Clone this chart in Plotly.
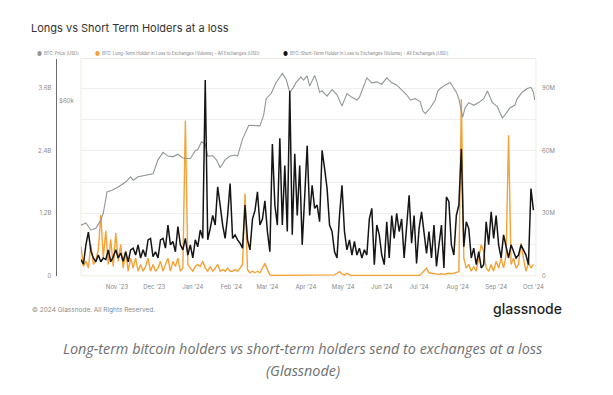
import plotly.graph_objects as go
import pandas as pd
import numpy as np

# ---------------- data ----------------
grid_start = "2023-10-03"
grid_step_days = 2

sth_volume_m = [
    7.8, 5.6, 14.9, 21, 12, 8.6, 6.8, 10, 6.8, 8.6,
    7.8, 12.5, 6.8, 9.2, 12.5, 8.6, 11, 7, 11.6, 6.8,
    12.5, 13.3, 10, 14.9, 8.6, 12.5, 9.2, 17.3, 18, 9.2,
    11.6, 8.6, 17.3, 18, 13.3, 24.4, 14.9, 16.5, 11.6, 23.7,
    14.9, 12.5, 18, 10, 14.9, 8.6, 17.3, 14, 22, 18,
    94, 17.3, 22.7, 29, 24.4, 42.7, 34, 24.4, 18, 29,
    44.3, 18, 19.7, 17.3, 15.7, 13.3, 34, 17.3, 12.5, 27.3,
    31.3, 40.3, 24.4, 27.3, 36, 21.3, 11.6, 63.3, 34, 24.4,
    66, 24.4, 53, 21.3, 88.7, 19.7, 58.6, 29, 53, 14.9,
    38, 62.5, 29, 43.5, 32.4, 34, 26, 60.3, 51.6, 42,
    24.4, 21.3, 11.6, 8.6, 29, 43.5, 21.3, 12.5, 17.3, 10,
    16.5, 10, 13.3, 8.6, 12.5, 10, 27.3, 32.4, 5.4, 24.4,
    19.7, 10, 5.4, 26, 8.6, 29, 18, 30, 21.3, 27.3,
    8.6, 26, 38.7, 15.7, 29, 6, 22.7, 30.7, 21.3, 10.8,
    21.3, 8.6, 24.4, 4.6, 14.9, 24.4, 3.8, 37.9, 35.6, 14.9,
    10, 29, 34, 61, 14, 26, 22.7, 8.6, 13.3, 5.4,
    11.6, 3.8, 5.4, 26, 15, 30.7, 18, 29, 14.9, 8.6,
    19.7, 13.3, 8.6, 14.9, 11.6, 8.6, 10, 14.9, 12.5, 10,
    5.4, 41.9, 31.6,
]

lth_volume_b = [
    0.57, 0.18, 0.28, 0.15, 0.60, 0.22, 0.30, 0.50, 1.17, 0.35,
    0.86, 0.22, 0.70, 0.18, 0.82, 0.28, 0.60, 0.15, 0.47, 0.09,
    0.34, 0.15, 0.34, 0.09, 0.22, 0.09, 0.18, 0.34, 0.09, 0.22,
    0.09, 0.15, 0.28, 0.09, 0.22, 0.34, 0.09, 0.28, 0.18, 0.34,
    0.09, 0.15, 2.98, 0.22, 0.15, 0.09, 0.18, 0.22, 0.18, 0.28,
    0.15, 0.09, 0.18, 0.09, 0.15, 0.22, 0.09, 0.12, 0.09, 0.15,
    0.09, 0.09, 0.12, 0.09, 0.15, 0.22, 1.58, 0.12, 0.06, 0.09,
    0.06, 0.09, 0.06, 0.15, 0.24, 0.12, 0.02, 0.01, 0.01, 0.01,
    0.01, 0.01, 0.01, 0.01, 0.01, 0.01, 0.01, 0.01, 0.01, 0.01,
    0.01, 0.01, 0.01, 0.01, 0.01, 0.01, 0.01, 0.01, 0.01, 0.01,
    0.01, 0.01, 0.02, 0.05, 0.08, 0.04, 0.02, 0.05, 0.02, 0.01,
    0.01, 0.01, 0.01, 0.01, 0.01, 0.01, 0.01, 0.01, 0.01, 0.01,
    0.01, 0.01, 0.01, 0.01, 0.01, 0.01, 0.01, 0.01, 0.01, 0.01,
    0.01, 0.01, 0.01, 0.01, 0.01, 0.01, 0.01, 0.04, 0.10, 0.15,
    0.06, 0.05, 0.04, 0.03, 0.03, 0.04, 0.03, 0.04, 0.05, 0.04,
    0.05, 0.06, 0.08, 3.39, 0.34, 0.15, 0.22, 0.09, 0.18, 0.09,
    0.34, 0.60, 0.47, 0.15, 0.09, 0.22, 0.09, 0.28, 0.15, 0.34,
    0.15, 0.40, 2.70, 0.22, 0.34, 0.15, 0.22, 0.63, 0.34, 0.09,
    0.25, 0.15, 0.22,
]

price_dates = [
    "2023-10-03", "2023-10-07", "2023-10-11", "2023-10-15", "2023-10-19", "2023-10-21",
    "2023-10-24", "2023-10-28", "2023-11-02", "2023-11-08", "2023-11-12", "2023-11-14",
    "2023-11-18", "2023-11-24", "2023-11-30", "2023-12-04", "2023-12-08", "2023-12-12",
    "2023-12-16", "2023-12-20", "2023-12-24", "2023-12-30", "2024-01-03", "2024-01-05",
    "2024-01-08", "2024-01-11", "2024-01-13", "2024-01-17", "2024-01-20", "2024-01-23",
    "2024-01-27", "2024-01-31", "2024-02-04", "2024-02-06", "2024-02-10", "2024-02-15",
    "2024-02-20", "2024-02-24", "2024-02-27", "2024-02-29", "2024-03-04", "2024-03-08",
    "2024-03-13", "2024-03-16", "2024-03-19", "2024-03-22", "2024-03-24", "2024-03-28",
    "2024-03-30", "2024-04-02", "2024-04-04", "2024-04-08", "2024-04-10", "2024-04-12",
    "2024-04-14", "2024-04-18", "2024-04-22", "2024-04-26", "2024-04-30", "2024-05-04",
    "2024-05-08", "2024-05-12", "2024-05-14", "2024-05-17", "2024-05-20", "2024-05-24",
    "2024-05-28", "2024-06-01", "2024-06-05", "2024-06-09", "2024-06-13", "2024-06-17",
    "2024-06-21", "2024-06-24", "2024-06-28", "2024-07-02", "2024-07-04", "2024-07-06",
    "2024-07-10", "2024-07-14", "2024-07-16", "2024-07-18", "2024-07-22", "2024-07-26",
    "2024-07-29", "2024-07-31", "2024-08-02", "2024-08-05", "2024-08-07", "2024-08-10",
    "2024-08-14", "2024-08-18", "2024-08-22", "2024-08-25", "2024-08-29", "2024-09-02",
    "2024-09-06", "2024-09-08", "2024-09-12", "2024-09-16", "2024-09-18", "2024-09-22",
    "2024-09-26", "2024-09-29", "2024-10-01", "2024-10-02",
]
price_k = [
    27.5, 27.9, 26.7, 27.0, 28.4, 29.7,
    33.9, 34.3, 35.0, 36.1, 37.3, 36.5,
    37.3, 37.6, 38.0, 41.5, 43.5, 42.5,
    42.3, 43.0, 42.0, 41.8, 44.0, 44.2,
    46.5, 45.8, 42.5, 42.6, 41.5, 39.5,
    41.5, 42.5, 42.8, 42.5, 47.3, 51.6,
    51.5, 51.4, 55.0, 61.0, 63.0, 67.5,
    71.5, 69.0, 63.5, 65.5, 67.5, 70.0,
    68.5, 70.4, 66.0, 70.6, 67.5, 63.5,
    64.0, 62.0, 64.6, 62.5, 58.2, 63.0,
    61.5, 60.5, 61.5, 65.5, 69.5, 67.4,
    67.8, 66.8, 69.5, 67.4, 66.5, 64.5,
    62.5, 60.5, 61.0, 59.8, 56.5, 55.5,
    57.5, 60.5, 64.0, 65.0, 66.5, 67.5,
    65.0, 63.5, 61.0, 54.2, 57.5, 59.5,
    58.5, 59.5, 61.0, 64.0, 59.5, 58.0,
    54.0, 55.0, 57.5, 58.5, 61.0, 63.5,
    65.0, 65.5, 63.5, 60.5,
]

month_ticks = ["2023-11-01", "2023-12-01", "2024-01-01", "2024-02-01", "2024-03-01",
               "2024-04-01", "2024-05-01", "2024-06-01", "2024-07-01", "2024-08-01",
               "2024-09-01", "2024-10-01"]
month_labels = ["Nov '23", "Dec '23", "Jan '24", "Feb '24", "Mar '24", "Apr '24",
                "May '24", "Jun '24", "Jul '24", "Aug '24", "Sep '24", "Oct '24"]

lth_tickvals = [0, 1.2e9, 2.4e9, 3.6e9]
lth_ticktext = ["0", "1.2B", "2.4B", "3.6B"]
sth_tickvals = [0, 30e6, 60e6, 90e6]
sth_ticktext = ["0", "30M", "60M", "90M"]
price_tickvals = [20000, 60000]
price_ticktext = ["$20k", "$60k"]

legend_labels = [
    "BTC: Price [USD]",
    "BTC: Long-Term Holder in Loss to Exchanges (Volume) - All Exchanges [USD]",
    "BTC: Short-Term Holder in Loss to Exchanges (Volume) - All Exchanges [USD]",
]

# ---------------- figure ----------------
W, H = 613, 395
grid_dates = pd.date_range(grid_start, periods=len(sth_volume_m), freq=f"{grid_step_days}D")

PRICE_C = "#8e9794"
LTH_C = "#f4a236"
STH_C = "#151515"
LABEL_C = "#8a8a8a"
FONT = "Inter"

fig = go.Figure()
fig.add_trace(go.Scatter(x=price_dates, y=[p * 1000 for p in price_k], yaxis="y2",
                         mode="lines", line=dict(color=PRICE_C, width=1.1),
                         name=legend_labels[0]))
fig.add_trace(go.Scatter(x=grid_dates, y=[v * 1e9 for v in lth_volume_b], yaxis="y",
                         mode="lines", line=dict(color=LTH_C, width=1.4),
                         name=legend_labels[1]))
fig.add_trace(go.Scatter(x=grid_dates, y=[v * 1e6 for v in sth_volume_m], yaxis="y3",
                         mode="lines", line=dict(color=STH_C, width=1.5),
                         name=legend_labels[2]))

x0, x1 = 82 / W, 543 / W
y_top, y_bot = 1 - 59 / H, 1 - 278 / H

tickfont = dict(family=FONT, size=6, color=LABEL_C)

fig.update_layout(
    width=W, height=H,
    margin=dict(l=0, r=0, t=0, b=0),
    paper_bgcolor="white", plot_bgcolor="white",
    showlegend=False,
    xaxis=dict(domain=[x0, x1], type="date",
               range=["2023-10-03", "2024-10-03"],
               tickvals=month_ticks, ticktext=month_labels,
               tickfont=tickfont, showgrid=False, zeroline=False,
               showline=False, ticks="", ticklabelstandoff=6),
    yaxis=dict(domain=[y_bot, y_top], range=[0, 4.171e9],
               tickvals=lth_tickvals, ticktext=lth_ticktext,
               tickfont=tickfont, showgrid=True, gridcolor="#efefef", gridwidth=1,
               minor=dict(dtick=0.6e9, showgrid=True, gridcolor="#efefef", gridwidth=1),
               zeroline=False, showline=False, ticks="",
               anchor="free", position=52 / W, side="left"),
    yaxis2=dict(overlaying="y", type="log",
                range=[np.log10(20000), np.log10(78500)],
                tickvals=price_tickvals, ticktext=price_ticktext,
                tickfont=tickfont, showgrid=False, zeroline=False,
                showline=True, linecolor="#6b6b6b", linewidth=1,
                ticks="", ticklabelposition="inside",
                anchor="free", position=57 / W, side="left"),
    yaxis3=dict(overlaying="y", range=[0, 104.3e6],
                tickvals=sth_tickvals, ticktext=sth_ticktext,
                tickfont=tickfont, showgrid=False, zeroline=False,
                showline=False, ticks="", side="right", anchor="x",
                ticklabelstandoff=5),
)

# plot area frame
fig.add_shape(type="rect", xref="paper", yref="paper", x0=x0, x1=x1, y0=y_bot, y1=y_top,
              line=dict(color="#f1ece2", width=1), layer="below")

# title
fig.add_annotation(x=29 / W, y=1 - 28 / H, xref="paper", yref="paper",
                   xanchor="left", yanchor="middle", showarrow=False,
                   text="Longs vs Short Term Holders at a loss",
                   font=dict(family=FONT, size=11, color="#333333"))

# legend (manual)
legend_x = [40, 99, 289]
legend_colors = [PRICE_C, LTH_C, STH_C]
for lx, col, txt in zip(legend_x, legend_colors, legend_labels):
    fig.add_annotation(x=lx / W, y=1 - 54 / H, xref="paper", yref="paper",
                       xanchor="center", yanchor="middle", showarrow=False,
                       text="●", font=dict(family=FONT, size=5.5, color=col))
    fig.add_annotation(x=(lx + 2.5) / W, y=1 - 54 / H, xref="paper", yref="paper",
                       xanchor="left", yanchor="middle", showarrow=False,
                       text=txt, font=dict(family=FONT, size=4.3, color="#777777"))

# footer
fig.add_annotation(x=30 / W, y=1 - 312 / H, xref="paper", yref="paper",
                   xanchor="left", yanchor="middle", showarrow=False,
                   text="© 2024 Glassnode. All Rights Reserved.",
                   font=dict(family=FONT, size=6.5, color="#8a8a8a"))
fig.add_annotation(x=571 / W, y=1 - 311 / H, xref="paper", yref="paper",
                   xanchor="right", yanchor="middle", showarrow=False,
                   text="glassnode",
                   font=dict(family="Inter", size=14, color="#1f1f1f", weight=500))

# caption
fig.add_annotation(x=0.5, y=1 - 351 / H, xref="paper", yref="paper",
                   xanchor="center", yanchor="middle", showarrow=False,
                   text="<i>Long-term bitcoin holders vs short-term holders send to exchanges at a loss</i>",
                   font=dict(family="Open Sans", size=14.4, color="#6f6f6f"))
fig.add_annotation(x=0.5, y=1 - 373 / H, xref="paper", yref="paper",
                   xanchor="center", yanchor="middle", showarrow=False,
                   text="<i>(Glassnode)</i>",
                   font=dict(family="Open Sans", size=14.4, color="#6f6f6f"))

fig.write_html("out.html",
               config={"displayModeBar": False, "responsive": False},
               post_script="document.body.style.margin='0';document.body.style.overflow='hidden';")
